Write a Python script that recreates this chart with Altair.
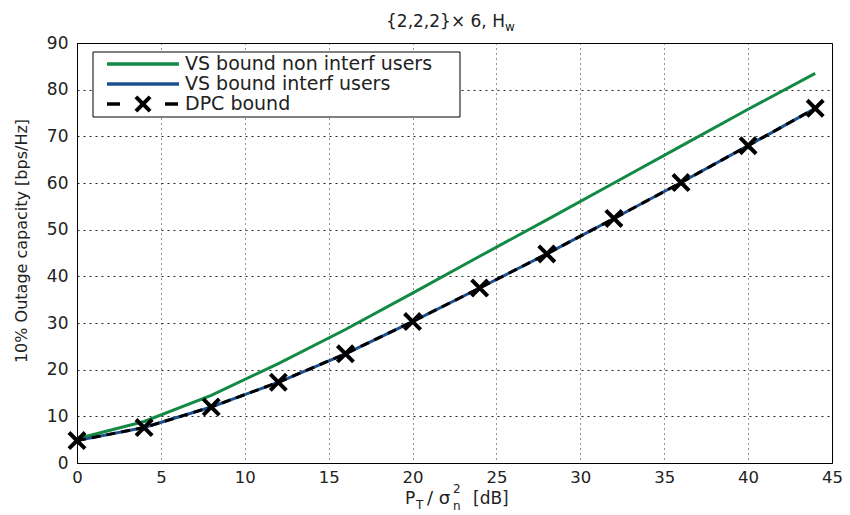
import altair as alt
import pandas as pd

# ---- data ----
snr_db = [0, 4, 8, 12, 16, 20, 24, 28, 32, 36, 40, 44]
vs_non_interf = [5.2, 8.9, 14.5, 21.3, 28.6, 36.4, 44.3, 52.1, 60.0, 67.9, 75.8, 83.5]
vs_interf = [4.8, 7.6, 12.0, 17.3, 23.4, 30.3, 37.5, 44.8, 52.4, 60.1, 68.0, 76.0]
dpc_bound = [4.8, 7.6, 12.0, 17.3, 23.4, 30.3, 37.5, 44.8, 52.4, 60.1, 68.0, 76.0]

series_names = ["VS bound non interf users", "VS bound interf users", "DPC bound"]
series_colors = ["#138a43", "#1c4f8f", "#000000"]

x_ticks = [0, 5, 10, 15, 20, 25, 30, 35, 40, 45]
y_ticks = [0, 10, 20, 30, 40, 50, 60, 70, 80, 90]

FONT = "DejaVu Sans"
W, H = 755, 420

df_green = pd.DataFrame({"x": snr_db, "y": vs_non_interf})
df_blue = pd.DataFrame({"x": snr_db, "y": vs_interf})
df_dpc = pd.DataFrame({"x": snr_db, "y": dpc_bound})

xenc = alt.X(
    "x:Q",
    scale=alt.Scale(domain=[0, 45], nice=False),
    axis=alt.Axis(
        values=x_ticks, title=None, grid=True, gridDash=[1, 4], gridColor="#000000",
        gridOpacity=0.85, tickSize=0, labelPadding=6, labelFont=FONT, labelFontSize=16.5,
        labelColor="#222222", labelFlush=False, domainColor="#000000",
    ),
)
yenc = alt.Y(
    "y:Q",
    scale=alt.Scale(domain=[0, 90], nice=False),
    axis=alt.Axis(
        values=y_ticks, title=None, grid=True, gridDash=[2, 4], gridColor="#000000",
        gridOpacity=0.85, tickSize=0, labelPadding=9, labelFont=FONT, labelFontSize=17,
        labelColor="#222222", labelFlush=False, domainColor="#000000",
    ),
)

green = alt.Chart(df_green).mark_line(color=series_colors[0], strokeWidth=3).encode(x=xenc, y=yenc)
blue = alt.Chart(df_blue).mark_line(color=series_colors[1], strokeWidth=3).encode(x="x:Q", y="y:Q")
dpc = alt.Chart(df_dpc).mark_line(color=series_colors[2], strokeWidth=3, strokeDash=[9, 6]).encode(x="x:Q", y="y:Q")
XPATH = "M-1,-1L1,1M-1,1L1,-1"
marks = alt.Chart(df_dpc).mark_point(
    shape=XPATH, filled=False, color="#000000", strokeWidth=4, size=260, opacity=1
).encode(x="x:Q", y="y:Q")

one = alt.Data(values=[{"a": 1}])


def txt(text, x, y, size=17, align="left", baseline="alphabetic", angle=0):
    kw = dict(text=text, font=FONT, fontSize=size, align=align, baseline=baseline, color="#222222")
    if angle:
        kw["angle"] = angle
    return alt.Chart(one).mark_text(**kw).encode(x=alt.value(x), y=alt.value(y))


# ---- legend (drawn as marks) ----
legend_box = alt.Chart(one).mark_rect(fill="white", stroke="black", strokeWidth=1).encode(
    x=alt.value(16), x2=alt.value(383), y=alt.value(9), y2=alt.value(74)
)
rows_y = [21, 41, 61]
leg = [legend_box]
for i, name in enumerate(series_names):
    if i < 2:
        leg.append(
            alt.Chart(one).mark_rule(color=series_colors[i], strokeWidth=3.5).encode(
                x=alt.value(30), x2=alt.value(102), y=alt.value(rows_y[i])
            )
        )
    else:
        leg.append(
            alt.Chart(one).mark_rule(color="#000000", strokeWidth=3.5, strokeDash=[13, 45]).encode(
                x=alt.value(30), x2=alt.value(102), y=alt.value(rows_y[i])
            )
        )
        leg.append(
            alt.Chart(one).mark_point(shape=XPATH, filled=False, color="#000000", strokeWidth=4,
                                      size=200, opacity=1).encode(x=alt.value(66), y=alt.value(rows_y[i]))
        )
    leg.append(txt(name, 108, rows_y[i], size=19, baseline="middle"))

# ---- titles ----
titles = [
    txt("{2,2,2}× 6, H", 309, -16, size=17),
    txt("w", 428, -12, size=12),
    txt("P", 328, 461),
    txt("T", 339, 466, size=12),
    txt("/ σ", 350, 461, size=18),
    txt("n", 376, 467, size=12),
    txt("2", 376, 450, size=12),
    txt("[dB]", 396, 461),
    txt("10% Outage capacity [bps/Hz]", -55, 198, size=16, align="center", baseline="middle", angle=270),
]

chart = alt.layer(green, blue, dpc, marks, *leg, *titles).properties(
    width=W,
    height=H,
    padding={"left": 69, "top": 35, "right": 10, "bottom": 50},
    autosize=alt.AutoSizeParams(type="none"),
    background="white",
).configure_view(stroke="#000000", strokeWidth=1)

chart.save("out.html", embed_options={"renderer": "svg", "actions": False})
